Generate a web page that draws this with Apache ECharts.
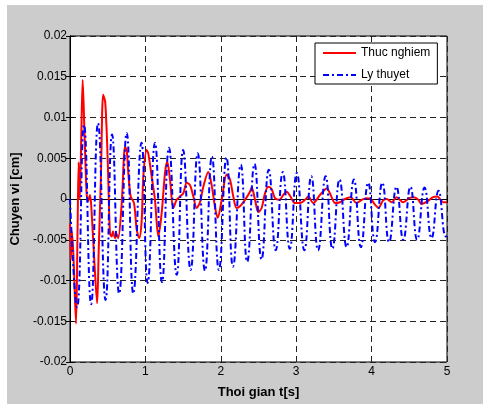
<!DOCTYPE html>
<html>
<head><meta charset="utf-8"></head>
<script type="text/javascript" src="https://cdn.jsdelivr.net/npm/echarts@6/dist/echarts.min.js"></script>
<body style="margin:0;background-color:#ffffff;">
    <div id="main" style="position:absolute;left:7px;top:5px;width:476px;height:399px;"></div>
</body>

<script type="text/javascript">
// Thuc nghiem (measured)
var redT = [0, 0.01, 0.025, 0.045, 0.08, 0.1, 0.115, 0.13, 0.15, 0.168,
    0.19, 0.22, 0.24, 0.265, 0.283, 0.322, 0.36, 0.38, 0.41, 0.44,
    0.468, 0.5, 0.53, 0.553, 0.57, 0.597, 0.62, 0.64, 0.686, 0.73,
    0.752, 0.773, 0.805, 0.849, 0.885, 0.919, 0.951, 0.972, 1.017, 1.038,
    1.084, 1.127, 1.171, 1.216, 1.26, 1.29, 1.326, 1.37, 1.415, 1.459,
    1.503, 1.548, 1.592, 1.636, 1.68, 1.724, 1.768, 1.834, 1.879, 1.923,
    1.959, 2.012, 2.078, 2.122, 2.166, 2.21, 2.254, 2.321, 2.387, 2.41,
    2.454, 2.497, 2.542, 2.586, 2.63, 2.675, 2.719, 2.776, 2.829, 2.874,
    2.918, 2.984, 3.05, 3.117, 3.16, 3.227, 3.316, 3.405, 3.471, 3.515,
    3.581, 3.647, 3.72, 3.8, 3.87, 3.93, 3.99, 4.045, 4.09, 4.15,
    4.2, 4.267, 4.33, 4.42, 4.5, 4.56, 4.62, 4.66, 4.74, 4.81,
    4.87, 4.95, 5]
var redV = [-0.003, -0.0075, -0.004, -0.0068, -0.0153, -0.004, 0.0045, 0.0, 0.008, 0.0146,
    0.0088, 0.0007, -0.0003, 0.0005, -0.001, -0.0075, -0.0128, -0.0065, 0.0027, 0.0128,
    0.0118, 0.0048, -0.0042, -0.0046, -0.004, -0.0048, -0.0043, -0.0048, -0.0005, 0.0064,
    0.006, 0.0032, 0.0003, -0.0005, -0.0038, -0.0048, -0.0026, 0.0027, 0.006, 0.0056,
    0.0027, -0.0001, -0.0046, -0.0017, 0.0032, 0.0046, 0.0024, -0.0011, -0.0001, 0.0003,
    0.0007, 0.002, 0.0017, 0.0003, -0.0011, -0.0004, 0.0015, 0.0033, 0.0017, -0.001,
    -0.0023, -0.0001, 0.003, 0.0024, 0.0003, -0.0011, -0.0009, -0.0001, 0.0009, 0.0014,
    -0.0001, -0.0016, -0.0011, 0.0007, 0.0015, 0.0012, 0.0001, -0.0001, 0.0005, 0.0009,
    0.0004, -0.0005, -0.0005, -0.0001, 0.0003, -0.0005, 0.0005, 0.0013, 0.0002, -0.0005,
    -0.0004, 0.0, 0.0002, -0.0005, -0.0001, 0.0001, 0.0, -0.0007, -0.0011, -0.0002,
    0.0, -0.0004, 0.0002, -0.0004, 0.0001, 0.0002, -0.0001, -0.0006, -0.0003, 0.0002,
    0.0003, -0.0004, -0.0004]

// Ly thuyet (theory), peaks and troughs
var blueT = [0, 0.093, 0.186, 0.28, 0.372, 0.472, 0.558, 0.652, 0.752, 0.84,
    0.948, 1.03, 1.127, 1.22, 1.313, 1.415, 1.5, 1.6, 1.694, 1.79,
    1.882, 1.975, 2.075, 2.162, 2.265, 2.35, 2.447, 2.54, 2.636, 2.728,
    2.822, 2.915, 3.008, 3.108, 3.2, 3.29, 3.39, 3.48, 3.575, 3.668,
    3.765, 3.858, 3.955, 4.045, 4.142, 4.232, 4.33, 4.42, 4.515, 4.604,
    4.702, 4.795, 4.888, 4.985, 5]
var blueV = [0, -0.0133, 0.0091, -0.0129, 0.0093, -0.0124, 0.0079, -0.0116, 0.0081, -0.0116,
    0.0069, -0.0103, 0.0069, -0.0102, 0.0063, -0.0093, 0.006, -0.0087, 0.0056, -0.0088,
    0.0052, -0.0087, 0.0051, -0.0083, 0.0042, -0.0077, 0.0043, -0.0074, 0.0036, -0.0063,
    0.0033, -0.0061, 0.0032, -0.0063, 0.0028, -0.0063, 0.0028, -0.0061, 0.0024, -0.0059,
    0.0024, -0.0059, 0.002, -0.0053, 0.002, -0.0053, 0.0015, -0.005, 0.0015, -0.005,
    0.0014, -0.0048, 0.001, -0.0046, -0.0045]

var xTicks = [0, 1, 2, 3, 4, 5]
var yRange = [-0.02, 0.02]

function pairs(t, v) {
    var out = []
    for (var i = 0; i < t.length; i++) {
        out.push([t[i], v[i]])
    }
    return out
}

var font = '"Liberation Sans", Arial, sans-serif'
var gridDash = {color: '#222', width: 1, type: [6, 4]}

var myChart = echarts.init(document.getElementById('main'));
var option = {
    backgroundColor: '#cccccc',
    animation: false,
    textStyle: {fontFamily: font},
    grid: {
        left: 63, right: 36, top: 31, bottom: 42,
        outerBoundsMode: 'none', containLabel: false,
        show: true, backgroundColor: '#ffffff', borderColor: '#000', borderWidth: 1
    },
    legend: {
        orient: 'vertical',
        left: 308, top: 38,
        padding: [4, 7, 3, 7],
        itemWidth: 33, itemHeight: 10, itemGap: 10,
        backgroundColor: '#ffffff',
        borderColor: '#000', borderWidth: 1,
        itemStyle: {opacity: 0},
        textStyle: {fontSize: 12, color: '#000', fontFamily: font},
        data: ['Thuc nghiem', 'Ly thuyet']
    },
    xAxis: [{
        type: 'value',
        min: xTicks[0], max: xTicks[xTicks.length - 1], interval: 1,
        name: 'Thoi gian t[s]',
        nameLocation: 'middle', nameGap: 24,
        nameTextStyle: {fontWeight: 'bold', fontSize: 13, color: '#000'},
        axisLine: {lineStyle: {color: '#000'}},
        axisTick: {inside: true, length: 4, lineStyle: {color: '#000'}},
        axisLabel: {fontSize: 12, color: '#000', margin: 4},
        splitLine: {show: true, lineStyle: gridDash}
    }, {
        type: 'value', position: 'top',
        min: xTicks[0], max: xTicks[xTicks.length - 1], interval: 1,
        axisLine: {lineStyle: {color: '#000'}},
        axisTick: {inside: true, length: 4, lineStyle: {color: '#000'}},
        axisLabel: {show: false},
        splitLine: {show: false}
    }],
    yAxis: [{
        type: 'value',
        min: yRange[0], max: yRange[1], interval: 0.005,
        name: 'Chuyen vi [cm]',
        nameLocation: 'middle', nameGap: 40,
        nameTextStyle: {fontWeight: 'bold', fontSize: 13, color: '#000'},
        axisLine: {lineStyle: {color: '#000'}},
        axisTick: {inside: true, length: 4, lineStyle: {color: '#000'}},
        axisLabel: {fontSize: 12, color: '#000', margin: 3},
        splitLine: {show: true, lineStyle: gridDash}
    }, {
        type: 'value', position: 'right',
        min: yRange[0], max: yRange[1], interval: 0.005,
        axisLine: {show: true, lineStyle: {color: '#000'}},
        axisTick: {show: true, inside: true, length: 4, lineStyle: {color: '#000'}},
        axisLabel: {show: false},
        splitLine: {show: false}
    }],
    series: [
        {
            name: 'Thuc nghiem',
            type: 'line',
            data: pairs(redT, redV),
            symbol: 'none',
            smooth: 0.3,
            lineStyle: {color: '#ff0000', width: 2},
            itemStyle: {color: '#ff0000'}
        },
        {
            name: 'Ly thuyet',
            type: 'line',
            data: pairs(blueT, blueV),
            symbol: 'none',
            smooth: 0.5,
            lineStyle: {color: '#0000ff', width: 2, type: [6, 3, 2, 3]},
            itemStyle: {color: '#0000ff'}
        }
    ]
};
myChart.setOption(option);
</script>
</html>
